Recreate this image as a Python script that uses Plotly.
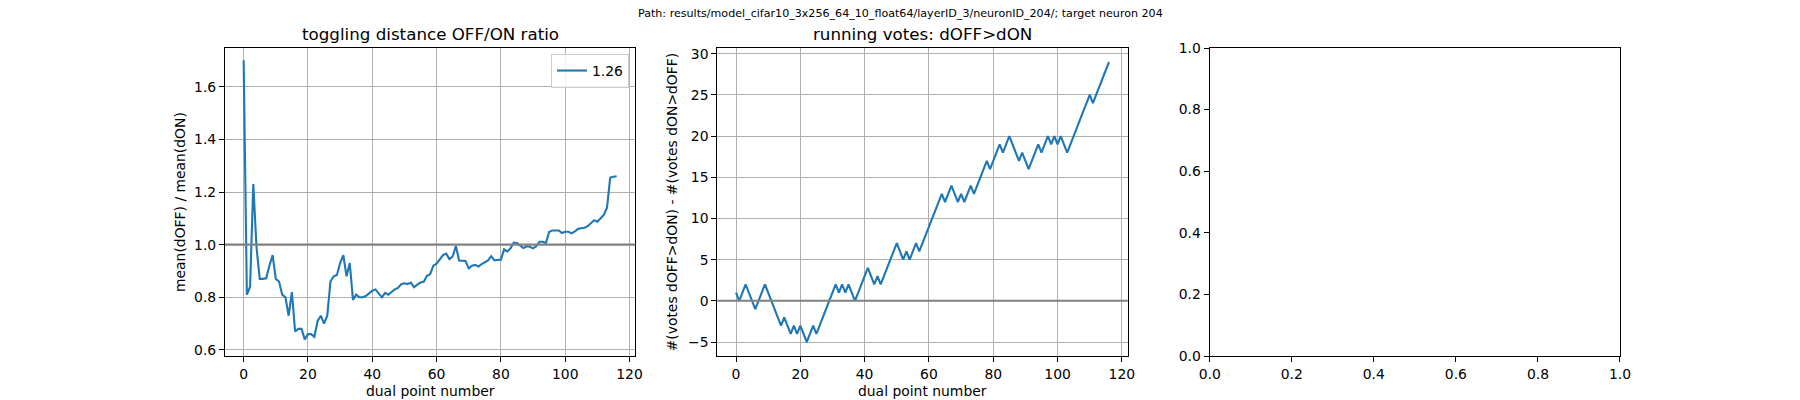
import plotly.graph_objects as go

# data
point_number = list(range(117))

ratio = [
    1.70, 0.81, 0.84, 1.23, 0.99, 0.87, 0.87, 0.872, 0.92, 0.96,
    0.87, 0.86, 0.81, 0.80, 0.73, 0.82, 0.67, 0.68, 0.68, 0.64,
    0.66, 0.66, 0.65, 0.71, 0.73, 0.70, 0.73, 0.86, 0.88, 0.885,
    0.93, 0.96, 0.88, 0.93, 0.79, 0.81, 0.80, 0.80, 0.805, 0.815,
    0.825, 0.83, 0.816, 0.80, 0.817, 0.81, 0.82, 0.83, 0.836, 0.85,
    0.853, 0.85, 0.856, 0.838, 0.848, 0.856, 0.859, 0.882, 0.888, 0.92,
    0.928, 0.945, 0.96, 0.966, 0.945, 0.955, 0.995, 0.94, 0.94, 0.938,
    0.91, 0.92, 0.923, 0.917, 0.926, 0.932, 0.94, 0.956, 0.94, 0.942,
    0.943, 0.982, 0.974, 0.986, 1.008, 1.006, 0.997, 0.987, 0.994, 0.992,
    0.986, 0.994, 1.011, 1.011, 1.006, 1.048, 1.054, 1.054, 1.054, 1.044,
    1.049, 1.049, 1.043, 1.05, 1.06, 1.062, 1.064, 1.07, 1.08, 1.093,
    1.087, 1.10, 1.113, 1.14, 1.255, 1.258, 1.26,
]

votes = [
    1, 0, 1, 2, 1, 0, -1, 0, 1, 2,
    1, 0, -1, -2, -3, -2, -3, -4, -3, -4,
    -3, -4, -5, -4, -3, -4, -3, -2, -1, 0,
    1, 2, 1, 2, 1, 2, 1, 0, 1, 2,
    3, 4, 3, 2, 3, 2, 3, 4, 5, 6,
    7, 6, 5, 6, 5, 6, 7, 6, 7, 8,
    9, 10, 11, 12, 13, 12, 13, 14, 13, 12,
    13, 12, 13, 14, 13, 14, 15, 16, 17, 16,
    17, 18, 19, 18, 19, 20, 19, 18, 17, 18,
    17, 16, 17, 18, 19, 18, 19, 20, 19, 20,
    19, 20, 19, 18, 19, 20, 21, 22, 23, 24,
    25, 24, 25, 26, 27, 28, 29,
]

ratio_ref = 1.0
votes_ref = 0
legend_label = '1.26'

suptitle = 'Path: results/model_cifar10_3x256_64_10_float64/layerID_3/neuronID_204/; target neuron 204'
titles = ['toggling distance OFF/ON ratio', 'running votes: dOFF>dON']
xlabel = 'dual point number'
ylabels = ['mean(dOFF) / mean(dON)', '#(votes dOFF>dON) - #(votes dON>dOFF)']

blue = '#1f77b4'
font = 'DejaVu Sans'

# the page body has an 8px margin, so the figure starts at (8, 8) in the window
OFF = 8
W, H = 1800 - 2 * OFF, 400 - OFF


def px(X):
    return (X - OFF) / W


def py(Y):
    return 1 - (Y - OFF) / H


# matplotlib default subplot geometry (1 x 3, wspace 0.2), in window pixels
ax_w = 1395 / 3.4
ax_gap = 0.2 * ax_w
ax_left = [225 + i * (ax_w + ax_gap) for i in range(3)]
doms = [[px(a), px(a + ax_w)] for a in ax_left]
ydom = [py(356), py(48)]
mid_y = py(202)

fig = go.Figure()

fig.add_trace(go.Scatter(
    x=point_number, y=ratio, mode='lines', name=legend_label,
    line=dict(color=blue, width=2.1), xaxis='x', yaxis='y', showlegend=True
))
fig.add_trace(go.Scatter(
    x=point_number, y=votes, mode='lines',
    line=dict(color=blue, width=2.1), xaxis='x2', yaxis='y2', showlegend=False
))
# empty third axes
fig.add_trace(go.Scatter(x=[], y=[], mode='lines', xaxis='x3', yaxis='y3', showlegend=False))

axis_common = dict(
    showline=True, linecolor='black', linewidth=1.1, mirror=True,
    ticks='outside', ticklen=5, tickwidth=1.1, tickcolor='black',
    tickfont=dict(family=font, size=13.9, color='black'),
    zeroline=False, automargin=False,
)
grid = dict(showgrid=True, gridcolor='#b0b0b0', gridwidth=1.1)

fig.update_layout(
    width=W, height=H,
    margin=dict(l=0, r=0, t=0, b=0),
    plot_bgcolor='white', paper_bgcolor='white',
    font=dict(family=font, color='black'),
    xaxis=dict(domain=doms[0], range=[-5.8, 121.8], dtick=20, tick0=0, anchor='y', **grid, **axis_common),
    yaxis=dict(domain=ydom, range=[0.577, 1.747], dtick=0.2, tick0=0, tickformat='.1f', anchor='x', **grid, **axis_common),
    xaxis2=dict(domain=doms[1], range=[-5.8, 121.8], dtick=20, tick0=0, anchor='y2', **grid, **axis_common),
    yaxis2=dict(domain=ydom, range=[-6.7, 30.7], dtick=5, tick0=0, anchor='x2', **grid, **axis_common),
    xaxis3=dict(domain=doms[2], range=[0, 1], dtick=0.2, tick0=0, tickformat='.1f', anchor='y3', showgrid=False, **axis_common),
    yaxis3=dict(domain=ydom, range=[0, 1], dtick=0.2, tick0=0, tickformat='.1f', anchor='x3', showgrid=False, **axis_common),
    legend=dict(
        x=px(629), y=py(54), xanchor='right', yanchor='top',
        bordercolor='#cccccc', borderwidth=1, bgcolor='rgba(255,255,255,0.8)',
        font=dict(family=font, size=13.9, color='black'),
    ),
    showlegend=True,
)

# horizontal reference lines
fig.add_shape(type='line', xref='x domain', yref='y', x0=0, x1=1, y0=ratio_ref, y1=ratio_ref,
              line=dict(color='gray', width=2.1))
fig.add_shape(type='line', xref='x2 domain', yref='y2', x0=0, x1=1, y0=votes_ref, y1=votes_ref,
              line=dict(color='gray', width=2.1))

# titles
fig.add_annotation(text=suptitle, x=px(900), y=py(13.5), xref='paper', yref='paper',
                   xanchor='center', yanchor='middle', showarrow=False,
                   font=dict(family=font, size=11.1, color='black'))
for i, t in enumerate(titles):
    fig.add_annotation(text=t, x=px(ax_left[i] + ax_w / 2), y=py(34), xref='paper', yref='paper',
                       xanchor='center', yanchor='middle', showarrow=False,
                       font=dict(family=font, size=16.7, color='black'))

# axis labels
for i in range(2):
    fig.add_annotation(text=xlabel, x=px(ax_left[i] + ax_w / 2), y=py(391), xref='paper', yref='paper',
                       xanchor='center', yanchor='middle', showarrow=False,
                       font=dict(family=font, size=13.9, color='black'))
    fig.add_annotation(text=ylabels[i], x=px(ax_left[i] - 45), y=mid_y, xref='paper', yref='paper',
                       xanchor='center', yanchor='middle', textangle=-90, showarrow=False,
                       font=dict(family=font, size=13.9, color='black'))

fig.write_html("out.html")
